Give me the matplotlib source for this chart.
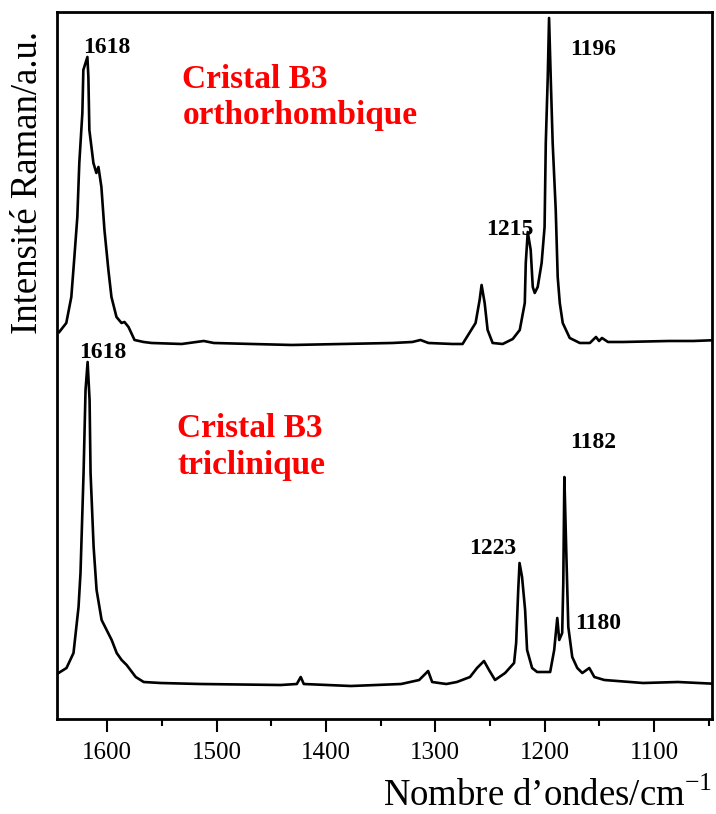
import matplotlib
matplotlib.use("Agg")
import numpy as np
import matplotlib.pyplot as plt
from matplotlib.ticker import MultipleLocator

plt.rcParams['font.family'] = ['Liberation Serif', 'DejaVu Serif']
plt.rcParams['mathtext.fontset'] = 'custom'
plt.rcParams['mathtext.rm'] = 'Liberation Serif'

# Spectre Raman du cristal B3 orthorhombique (nombre d'ondes, intensité)
ortho_x = [1643.9, 1637.5, 1632.9, 1630.1, 1627.4, 1625.6, 1622.8, 1621.9,
           1618.2, 1617.3, 1616.4, 1612.7, 1610.0, 1608.1, 1605.4, 1602.6,
           1599.0, 1596.2, 1591.6, 1587.0, 1584.3, 1580.6, 1575.1, 1566.8,
           1559.5, 1532.0, 1511.8, 1502.6, 1467.8, 1431.1, 1385.2, 1339.3,
           1321.0, 1313.6, 1306.3, 1284.3, 1275.1, 1263.2, 1259.5, 1257.7,
           1254.9, 1252.2, 1247.6, 1238.4, 1229.2, 1222.8, 1218.2, 1217.3,
           1215.5, 1212.8, 1210.9, 1209.1, 1206.4, 1202.8, 1200.1, 1199.0,
           1197.2, 1196.0, 1194.5, 1192.7, 1189.9, 1188.1, 1186.2, 1183.5,
           1177.1, 1167.9, 1158.7, 1153.1, 1150.3, 1147.6, 1142.1, 1128.3,
           1086.1, 1064.1, 1040.0]
ortho_y = [387, 396, 422, 462, 502, 556, 606, 649,
           662, 642, 589, 556, 546, 552, 532, 489,
           449, 422, 402, 396, 397, 392, 379, 377,
           376, 375, 378, 376, 375, 374, 375, 376,
           377, 379, 376, 375, 375, 396, 419, 434,
           416, 389, 376, 375, 380, 389, 416, 456,
           487, 469, 432, 426, 432, 456, 492, 576,
           642, 701, 642, 576, 509, 442, 416, 396,
           381, 376, 376, 382, 378, 381, 377, 377,
           378, 378, 379]

# Spectre Raman du cristal B3 triclinique
tricl_x = [1644.6, 1637.3, 1630.9, 1626.3, 1624.5, 1621.7, 1619.9, 1618.0,
           1616.2, 1615.3, 1612.5, 1609.8, 1605.2, 1600.6, 1596.0, 1591.4,
           1586.9, 1582.3, 1574.0, 1566.7, 1551.1, 1514.8, 1441.4, 1426.7,
           1423.1, 1420.3, 1377.2, 1331.3, 1314.8, 1309.3, 1306.6, 1302.9,
           1290.0, 1280.3, 1268.3, 1261.9, 1255.5, 1250.9, 1245.4, 1236.2,
           1228.0, 1226.1, 1224.2, 1223.0, 1220.7, 1217.9, 1216.1, 1211.5,
           1206.9, 1195.0, 1191.3, 1188.5, 1186.7, 1184.0, 1183.0, 1182.0,
           1180.3, 1178.4, 1174.8, 1170.2, 1165.6, 1159.2, 1154.6, 1145.4,
           1110.0, 1078.2, 1040.0]
tricl_y = [46, 51, 66, 112, 146, 246, 329, 357,
           319, 246, 172, 129, 99, 89, 79, 66,
           59, 54, 42, 37, 36, 35, 34, 35,
           42, 35, 33, 35, 39, 45, 48, 37,
           35, 37, 42, 51, 58, 49, 39, 46,
           56, 76, 129, 156, 142, 109, 69, 51,
           47, 47, 69, 101, 79, 86, 136, 242,
           169, 92, 62, 51, 46, 51, 42, 39,
           36, 37, 35]

# Pics annotés : valeur, position x du texte, ligne de base y du texte
ortho_peaks = [1618, 1215, 1196]
ortho_label_x = [1600.1, 1232.2, 1156.1]
ortho_label_y = [666, 484, 664]

tricl_peaks = [1618, 1223, 1182, 1180]
tricl_label_x = [1603.8, 1247.8, 1156.1, 1151.5]
tricl_label_y = [361, 165, 271, 90]

fig = plt.figure(figsize=(7.16, 8.14), dpi=100)
ax = fig.add_axes([0.0796, 0.1167, 0.9148, 0.8686])

ax.plot(ortho_x, ortho_y, color='black', linewidth=1.9)
ax.plot(tricl_x, tricl_y, color='black', linewidth=1.9)

for val, tx, ty in zip(ortho_peaks + tricl_peaks,
                       ortho_label_x + tricl_label_x,
                       ortho_label_y + tricl_label_y):
    ax.text(tx, ty, str(val), ha='center', va='baseline',
            fontsize=17, fontweight='bold')

# Noms des phases cristallines
ax.text(1531.3, 631, 'Cristal B3', color='#ff0000', fontsize=24,
        fontweight='bold', va='baseline')
ax.text(1531.3, 595, 'orthorhombique', color='#ff0000', fontsize=24,
        fontweight='bold', va='baseline')
ax.text(1535.9, 282, 'Cristal B3', color='#ff0000', fontsize=24,
        fontweight='bold', va='baseline')
ax.text(1535.9, 245, 'triclinique', color='#ff0000', fontsize=24,
        fontweight='bold', va='baseline')

ax.set_xlim(1646, 1047)
ax.set_ylim(0, 707)
ax.xaxis.set_major_locator(MultipleLocator(100))
ax.xaxis.set_minor_locator(MultipleLocator(50))
ax.tick_params(axis='x', which='major', direction='out', length=9.5,
               width=1.5, labelsize=18, pad=7)
ax.tick_params(axis='x', which='minor', direction='out', length=5, width=1.5)
ax.set_yticks([])
for sp in ax.spines.values():
    sp.set_linewidth(2)

fig.text(28 / 716, 1 - 182 / 814, 'Intensité Raman/a.u.', rotation=90,
         ha='center', va='center', fontsize=26.5)
fig.text(712 / 716, 1 - 806 / 814,
         r'Nombre d’ondes/cm$^{\mathregular{-1}}$',
         ha='right', va='baseline', fontsize=26.5)

fig.savefig('out.png', dpi=100)
